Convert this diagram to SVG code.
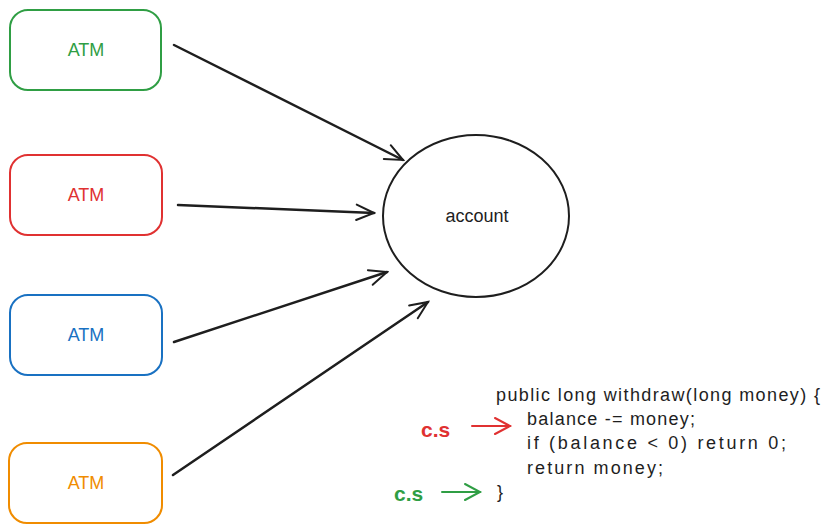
<svg xmlns="http://www.w3.org/2000/svg" width="832" height="532" viewBox="0 0 832 532">
<defs>
<style>
.box{fill:none;stroke-width:2;}
.lbl{font-family:"Liberation Sans",Arial,sans-serif;font-size:18px;text-anchor:middle;}
.code{font-family:"Liberation Sans",Arial,sans-serif;font-size:18px;fill:#1e1e1e;}
.conn{stroke:#1e1e1e;stroke-width:2.5;fill:none;stroke-linecap:round;}
.cs{font-family:"Liberation Sans",Arial,sans-serif;font-size:21px;font-weight:bold;}
</style>
<marker id="ah" viewBox="0 0 20 20" refX="18" refY="10" markerWidth="22" markerHeight="22" markerUnits="userSpaceOnUse" orient="auto">
<path d="M2 3 L18 10 L2 17" fill="none" stroke="#1e1e1e" stroke-width="1.8" stroke-linecap="round"/>
</marker>
</defs>
<rect width="832" height="532" fill="#ffffff"/>
<g id="atm1">
<rect class="box" x="10" y="10" width="151" height="80" rx="18" stroke="#2f9e44"/>
<text class="lbl" x="86" y="56" fill="#2f9e44">ATM</text>
</g>
<g id="atm2">
<rect class="box" x="10" y="155" width="152" height="80" rx="18" stroke="#e03131"/>
<text class="lbl" x="86" y="201" fill="#e03131">ATM</text>
</g>
<g id="atm3">
<rect class="box" x="10" y="295" width="152" height="80" rx="18" stroke="#1971c2"/>
<text class="lbl" x="86" y="341" fill="#1971c2">ATM</text>
</g>
<g id="atm4">
<rect class="box" x="9" y="443" width="153" height="80" rx="18" stroke="#f08c00"/>
<text class="lbl" x="86" y="489" fill="#f08c00">ATM</text>
</g>
<g id="account">
<ellipse cx="476" cy="216" rx="93" ry="81" fill="none" stroke="#1e1e1e" stroke-width="2"/>
<text class="lbl" x="477" y="222" fill="#1e1e1e">account</text>
</g>
<g id="connectors">
<line class="conn" x1="174" y1="45" x2="403" y2="160" marker-end="url(#ah)"/>
<line class="conn" x1="178" y1="205" x2="374" y2="213" marker-end="url(#ah)"/>
<line class="conn" x1="174" y1="342" x2="387" y2="272" marker-end="url(#ah)"/>
<line class="conn" x1="173" y1="475" x2="428" y2="302" marker-end="url(#ah)"/>
</g>
<g id="code">
<text class="code" x="496" y="401" textLength="324">public long withdraw(long money) {</text>
<text class="code" x="527" y="425" textLength="168">balance -= money;</text>
<text class="code" x="527" y="449" textLength="259">if (balance &lt; 0) return 0;</text>
<text class="code" x="527" y="474" textLength="136">return money;</text>
<text class="code" x="497" y="498">}</text>
</g>
<g id="cs-red">
<text class="cs" x="421" y="437" fill="#e03131">c.s</text>
<line x1="472" y1="426" x2="510" y2="426" stroke="#e03131" stroke-width="2" stroke-linecap="round"/>
<path d="M495 418 L510 426 L495 434" fill="none" stroke="#e03131" stroke-width="2" stroke-linecap="round"/>
</g>
<g id="cs-green">
<text class="cs" x="394" y="501" fill="#2f9e44">c.s</text>
<line x1="442" y1="492" x2="480" y2="492" stroke="#2f9e44" stroke-width="2" stroke-linecap="round"/>
<path d="M465 484 L480 492 L465 500" fill="none" stroke="#2f9e44" stroke-width="2" stroke-linecap="round"/>
</g>
</svg>
